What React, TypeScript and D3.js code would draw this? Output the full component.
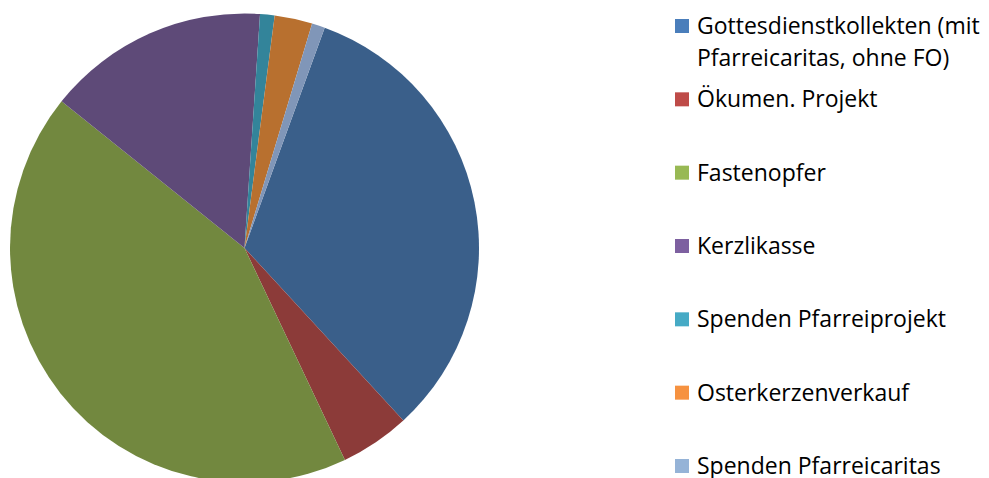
import React from "react";
import * as d3 from "d3";

const categories = [
  "Gottesdienstkollekten (mit Pfarreicaritas, ohne FO)",
  "Ökumen. Projekt",
  "Fastenopfer",
  "Kerzlikasse",
  "Spenden Pfarreiprojekt",
  "Osterkerzenverkauf",
  "Spenden Pfarreicaritas",
];
const legendLines = [
  ["Gottesdienstkollekten (mit", "Pfarreicaritas, ohne FO)"],
  ["Ökumen. Projekt"],
  ["Fastenopfer"],
  ["Kerzlikasse"],
  ["Spenden Pfarreiprojekt"],
  ["Osterkerzenverkauf"],
  ["Spenden Pfarreicaritas"],
];
const values = [32.6, 4.8, 42.8, 15.3, 1.0, 2.6, 0.9];
const sliceColors = ["#3A5F8A", "#8C3B39", "#72883F", "#5E4A78", "#33849A", "#B8702F", "#8096B8"];
const legendColors = ["#4A7EBB", "#BE4B48", "#98B954", "#7D60A0", "#46AAC5", "#F69240", "#95B3D7"];

export default function App() {
  const W = 989, H = 478;
  const cx = 244.5, cy = 248, r = 234.5;
  const start = (20 * Math.PI) / 180;
  const pie = d3.pie<number>().sort(null).value((d) => d).startAngle(start).endAngle(start + 2 * Math.PI);
  const arcs = pie(values);
  const arc = d3.arc<d3.PieArcDatum<number>>().innerRadius(0).outerRadius(r);
  const legendY = d3.scaleLinear().domain([0, categories.length - 1]).range([26, 466]);
  return (
    <svg width={W} height={H} style={{ position: "absolute", left: 0, top: 0, background: "#fff" }}>
      <g transform={`translate(${cx},${cy})`}>
        {arcs.map((a, i) => (
          <path key={i} d={arc(a) || ""} fill={sliceColors[i]} />
        ))}
      </g>
      <g fontFamily="'Open Sans', sans-serif" fontSize={23} fill="#000">
        {categories.map((c, i) => {
          const y = legendY(i);
          return (
            <g key={c}>
              <rect x={675} y={y - 7} width={14} height={14} fill={legendColors[i]} />
              {legendLines[i].map((t, j) => (
                <text key={j} x={697} y={y + 8 + j * 32}>{t}</text>
              ))}
            </g>
          );
        })}
      </g>
    </svg>
  );
}
